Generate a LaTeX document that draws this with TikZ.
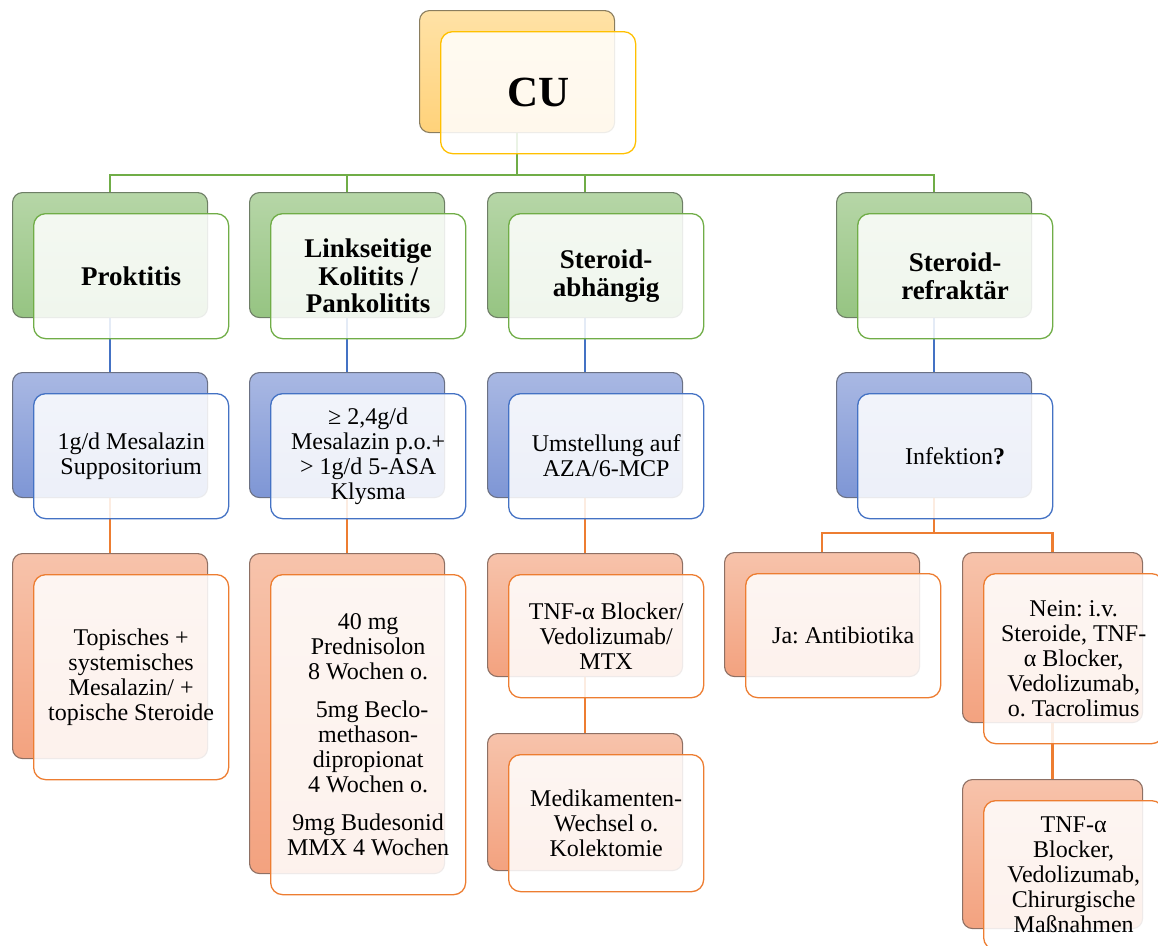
\documentclass[tikz,border=0pt]{standalone}
\usepackage{fontspec}
\setmainfont{Liberation Serif}
\frenchspacing

% palette
\definecolor{yTop}{HTML}{FFE2A6}
\definecolor{yBot}{HTML}{FFD27A}
\definecolor{yEdge}{HTML}{8A7D5E}
\definecolor{yLine}{HTML}{FFC000}
\definecolor{gTop}{HTML}{B6D6A7}
\definecolor{gBot}{HTML}{96C482}
\definecolor{gEdge}{HTML}{6E7E66}
\definecolor{gLine}{HTML}{70AD47}
\definecolor{bTop}{HTML}{A9B8E3}
\definecolor{bBot}{HTML}{7E96D5}
\definecolor{bEdge}{HTML}{6B7184}
\definecolor{bLine}{HTML}{4472C4}
\definecolor{oTop}{HTML}{F7C3AB}
\definecolor{oBot}{HTML}{F3A27F}
\definecolor{oEdge}{HTML}{8E7064}
\definecolor{oLine}{HTML}{ED7D31}

\newcommand\bodyfont{\fontsize{24}{25}\selectfont}
\newcommand\headfont{\fontsize{27}{27.5}\selectfont\bfseries}
\newcommand\cufont{\fontsize{43}{45}\selectfont\bfseries}

\pgfdeclarelayer{links}
\pgfsetlayers{links,main}

\tikzset{
  backbox/.style={rounded corners=10pt, line width=1.1pt, anchor=north west, inner sep=0pt},
  frontbox/.style={rounded corners=12pt, line width=1.3pt, anchor=north west, fill=white,
    fill opacity=0.86, text opacity=1, align=center, inner sep=0pt, font=\bodyfont},
  head/.style={font=\headfont},
  conn/.style={line width=2.5pt},
  gconn/.style={conn, draw=gLine},
  bconn/.style={conn, draw=bLine},
  oconn/.style={conn, draw=oLine},
}

% a shaded card with a lighter card laid over it, offset down and right
% [front style]{name}{x}{y}{width}{height}{colour prefix}{text}
\newcommand\boxpair[8][]{%
  \node[backbox, draw=#7Edge, top color=#7Top, bottom color=#7Bot,
        minimum width=#5pt, minimum height=#6pt] (#2b) at (#3,#4) {};
  \node[frontbox, draw=#7Line, minimum width=#5pt, minimum height=#6pt, #1]
        (#2) at ({#3+21},{#4+21}) {#8};
}

\begin{document}
\begin{tikzpicture}[x=1pt, y=-1pt]
\clip (0,0) rectangle (1158,945);

% root
\boxpair[font=\cufont]{cu}{419}{10}{195}{122}{y}{CU}

% first level
\boxpair[head]{pro}{12}{192}{195}{125}{g}{Proktitis}
\boxpair[head]{lk}{249}{192}{195}{125}{g}{Linkseitige\\Kolitits /\\Pankolitits}
\boxpair[head]{sa}{487}{192}{195}{125}{g}{Steroid-\\abhängig}
\boxpair[head]{sr}{836}{192}{195}{125}{g}{Steroid-\\refraktär}

% second level
\boxpair{mes}{12}{372}{195}{125}{b}{1g/d Mesalazin\\Suppositorium}
\boxpair{asa}{249}{372}{195}{125}{b}{≥ 2,4g/d\\Mesalazin p.o.+\\> 1g/d 5-ASA\\Klysma}
\boxpair{aza}{487}{372}{195}{125}{b}{Umstellung auf\\AZA/6-MCP}
\boxpair{inf}{836}{372}{195}{125}{b}{Infektion\textbf{?}}

% third level
\boxpair{top}{12}{553}{195}{205}{o}{Topisches +\\systemisches\\Mesalazin/ +\\topische Steroide}
\boxpair{ste}{249}{553}{195}{320}{o}{40 mg\\Prednisolon\\8 Wochen o.\\[13pt]\hspace{8pt}5mg Beclo-\\methason-\\dipropionat\\4 Wochen o.\\[13pt]9mg Budesonid\\MMX 4 Wochen}
\boxpair{tnf}{487}{553}{195}{123}{o}{TNF-α Blocker/\\Vedolizumab/\\MTX}
\boxpair{med}{487}{733}{195}{137}{o}{Medikamenten-\\Wechsel o.\\Kolektomie}
\boxpair{ja}{724}{552}{195}{124}{o}{Ja: Antibiotika}
\boxpair{nein}{962}{552}{180}{170}{o}{Nein: i.v.\\Steroide, TNF-\\α Blocker,\\Vedolizumab,\\o. Tacrolimus}
\boxpair{chi}{962}{779}{180}{149}{o}{TNF-α\\Blocker,\\Vedolizumab,\\Chirurgische\\Maßnahmen}

% connectors, beneath the cards
\begin{pgfonlayer}{links}
  \coordinate (bus) at (0,175);
  \coordinate (obus) at (0,533);
  \foreach \c in {prob,lkb,sab,srb}
    \draw[gconn] (cub.south) -- (cub.south |- bus) -| (\c.north);
  \draw[bconn] (prob.south) -- (mesb.north);
  \draw[bconn] (lkb.south) -- (asab.north);
  \draw[bconn] (sab.south) -- (azab.north);
  \draw[bconn] (srb.south) -- (infb.north);
  \draw[oconn] (mesb.south) -- (topb.north);
  \draw[oconn] (asab.south) -- (steb.north);
  \draw[oconn] (azab.south) -- (tnfb.north);
  \draw[oconn] (tnfb.south) -- (medb.north);
  \foreach \c in {jab,neinb}
    \draw[oconn] (infb.south) -- (infb.south |- obus) -| (\c.north);
  \draw[oconn] (neinb.south) -- (chib.north);
\end{pgfonlayer}
\end{tikzpicture}
\end{document}
